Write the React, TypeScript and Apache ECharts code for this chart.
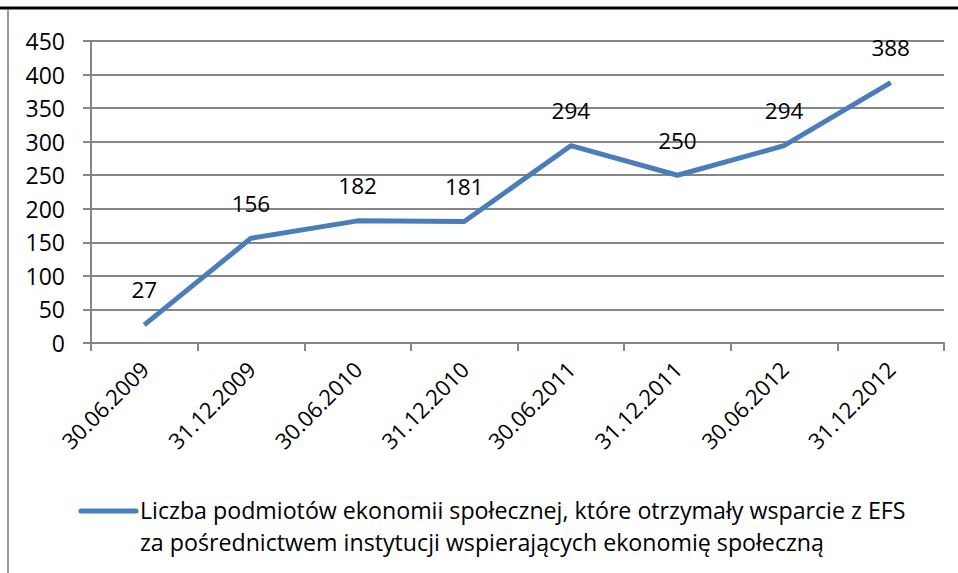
import React, { useEffect, useRef } from "react";
import * as echarts from "echarts";

const categories = ["30.06.2009", "31.12.2009", "30.06.2010", "31.12.2010", "30.06.2011", "31.12.2011", "30.06.2012", "31.12.2012"];
const values = [27, 156, 182, 181, 294, 250, 294, 388];
const seriesName = "Liczba podmiotów ekonomii społecznej, które otrzymały wsparcie z EFS\nza pośrednictwem instytucji wspierających ekonomię społeczną";

const FONT = "'Open Sans', 'Noto Sans', sans-serif";

export default function App() {
  const ref = useRef<HTMLDivElement>(null);
  useEffect(() => {
    if (!ref.current) return;
    const chart = echarts.init(ref.current, null, { renderer: "svg" });
    chart.setOption({
      animation: false,
      backgroundColor: "#ffffff",
      grid: { left: 91, right: 14, top: 41, bottom: 230, containLabel: false },
      xAxis: {
        type: "category",
        data: categories,
        boundaryGap: true,
        axisLine: { lineStyle: { color: "#868686", width: 2 } },
        axisTick: { show: true, length: 8, lineStyle: { color: "#868686", width: 2 } },
        axisLabel: { rotate: 45, color: "#000", fontFamily: FONT, fontSize: 22, margin: 22 },
      },
      yAxis: {
        type: "value",
        min: 0,
        max: 450,
        interval: 50,
        axisLine: { show: true, lineStyle: { color: "#868686", width: 2 } },
        axisTick: { show: true, length: 8, lineStyle: { color: "#868686", width: 2 } },
        splitLine: { lineStyle: { color: "#868686", width: 2 } },
        axisLabel: { color: "#000", fontFamily: FONT, fontSize: 23, margin: 26 },
      },
      series: [
        {
          name: seriesName,
          type: "line",
          data: values,
          symbol: "circle",
          symbolSize: 1,
          showSymbol: true,
          lineStyle: { color: "#4a7ebb", width: 5 },
          itemStyle: { color: "#4a7ebb" },
          label: { show: true, position: "top", distance: 23, color: "#000", fontFamily: FONT, fontSize: 22.5 },
        },
      ],
      graphic: [
        { type: "line", shape: { x1: 0, y1: 8, x2: 958, y2: 8 }, style: { stroke: "#000", lineWidth: 3 } },
        { type: "line", shape: { x1: 8, y1: 10, x2: 8, y2: 573 }, style: { stroke: "#9a9a9a", lineWidth: 2 } },
        { type: "line", shape: { x1: 81, y1: 511, x2: 136, y2: 511 }, style: { stroke: "#4a7ebb", lineWidth: 5, lineCap: "round" } },
        {
          type: "text",
          x: 140,
          y: 494,
          style: {
            text: seriesName,
            font: `23.2px ${FONT}`,
            fill: "#000",
            lineHeight: 32,
          },
        },
      ],
    });
    return () => chart.dispose();
  }, []);
  return <div ref={ref} style={{ position: "absolute", left: 0, top: 0, width: 958, height: 573 }} />;
}
